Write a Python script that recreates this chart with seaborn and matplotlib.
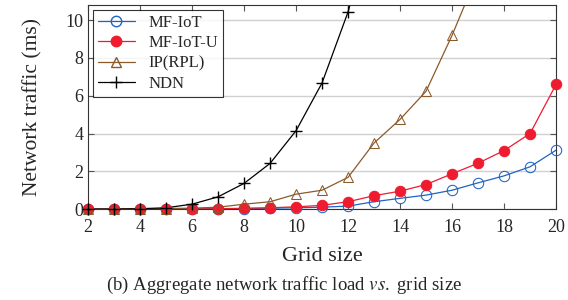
import matplotlib
matplotlib.use("Agg")
import matplotlib.pyplot as plt
import pandas as pd
import seaborn as sns
from matplotlib.lines import Line2D

# grid sizes
grid = list(range(2, 21))

# network traffic
mf_iot = [0.0, 0.0, 0.0, 0.01, 0.01, 0.02, 0.03, 0.05, 0.07, 0.1, 0.16,
          0.39, 0.57, 0.74, 1.0, 1.39, 1.76, 2.24, 3.12]
mf_iot_u = [0.0, 0.0, 0.0, 0.01, 0.01, 0.02, 0.04, 0.07, 0.12, 0.2, 0.39,
            0.71, 0.95, 1.3, 1.87, 2.43, 3.1, 4.0, 6.6]
ip_rpl = [0.0, 0.0, 0.01, 0.03, 0.05, 0.1, 0.26, 0.39, 0.79, 1.0, 1.68,
          3.5, 4.75, 6.24, 9.2, 12.5]
ndn = [0.0, 0.0, 0.02, 0.07, 0.26, 0.65, 1.36, 2.42, 4.15, 6.68, 10.44, 15.5]

series = {'MF-IoT': mf_iot, 'MF-IoT-U': mf_iot_u, 'IP(RPL)': ip_rpl, 'NDN': ndn}
colors = {'MF-IoT': '#1f63c4', 'MF-IoT-U': '#ee1c2e', 'IP(RPL)': '#8b5a2b', 'NDN': '#000000'}
y_top = 10.8

rows = []
for name, vals in series.items():
    for g, v in zip(grid, vals):
        rows.append({'Grid size': g, 'traffic': v, 'proto': name})
df = pd.DataFrame(rows)

sns.set_style('ticks')
plt.rcParams['font.family'] = ['Liberation Serif', 'DejaVu Serif']
plt.rcParams['mathtext.fontset'] = 'stix'

fig = plt.figure(figsize=(5.68, 3.0), dpi=100)
ax = fig.add_axes([0.155, 0.303, 0.824, 0.68])

marker_style = {
    'MF-IoT': dict(marker='o', markerfacecolor='none', markeredgecolor=colors['MF-IoT'], markersize=7.5),
    'MF-IoT-U': dict(marker='o', markerfacecolor=colors['MF-IoT-U'], markeredgecolor=colors['MF-IoT-U'], markersize=7.5),
    'IP(RPL)': dict(marker='^', markerfacecolor='none', markeredgecolor=colors['IP(RPL)'], markersize=7.5),
    'NDN': dict(marker='+', markeredgecolor=colors['NDN'], markersize=9, markeredgewidth=1.0),
}

handles = []
for name in series:
    sub = df[df.proto == name]
    # line (clipped at the top of the axes)
    sns.lineplot(data=sub, x='Grid size', y='traffic', ax=ax, color=colors[name],
                 linewidth=0.9, legend=False)
    # markers, not clipped at the edges
    vis = sub[sub.traffic <= y_top]
    sns.lineplot(data=vis, x='Grid size', y='traffic', ax=ax, color=colors[name],
                 linestyle='', legend=False, clip_on=False, zorder=3, **marker_style[name])
    handles.append(Line2D([], [], color=colors[name], linewidth=0.9, **marker_style[name]))

ax.set_xlim(2, 20)
ax.set_ylim(0, y_top)
ax.set_xticks(range(2, 21, 2))
ax.set_yticks(range(0, 11, 2))
ax.yaxis.grid(True, color='#d0d0d0', linewidth=1.0)
ax.set_axisbelow(True)
ax.tick_params(direction='in', top=True, right=True, labelsize=13, length=4, color='#555555')
ax.tick_params(axis='x', pad=7)
for sp in ax.spines.values():
    sp.set_linewidth(0.8)
    sp.set_color('#333333')
    sp.set_zorder(2.5)

ax.set_xlabel('Grid size', fontsize=16, labelpad=8)
ax.set_ylabel('Network traffic (ms)', fontsize=15.5, labelpad=16)

leg = ax.legend(handles, list(series.keys()), loc='upper left', fontsize=12, fancybox=False,
                frameon=True, borderaxespad=0.3, handlelength=2.2, labelspacing=0.25,
                borderpad=0.3)
leg.get_frame().set_edgecolor('black')
leg.get_frame().set_linewidth(0.8)
leg.set_zorder(5)

fig.text(0.5, 0.035, r'(b) Aggregate network traffic load $\it{vs.}$ grid size',
         ha='center', fontsize=13.5)

plt.savefig('out.png', dpi=100)
